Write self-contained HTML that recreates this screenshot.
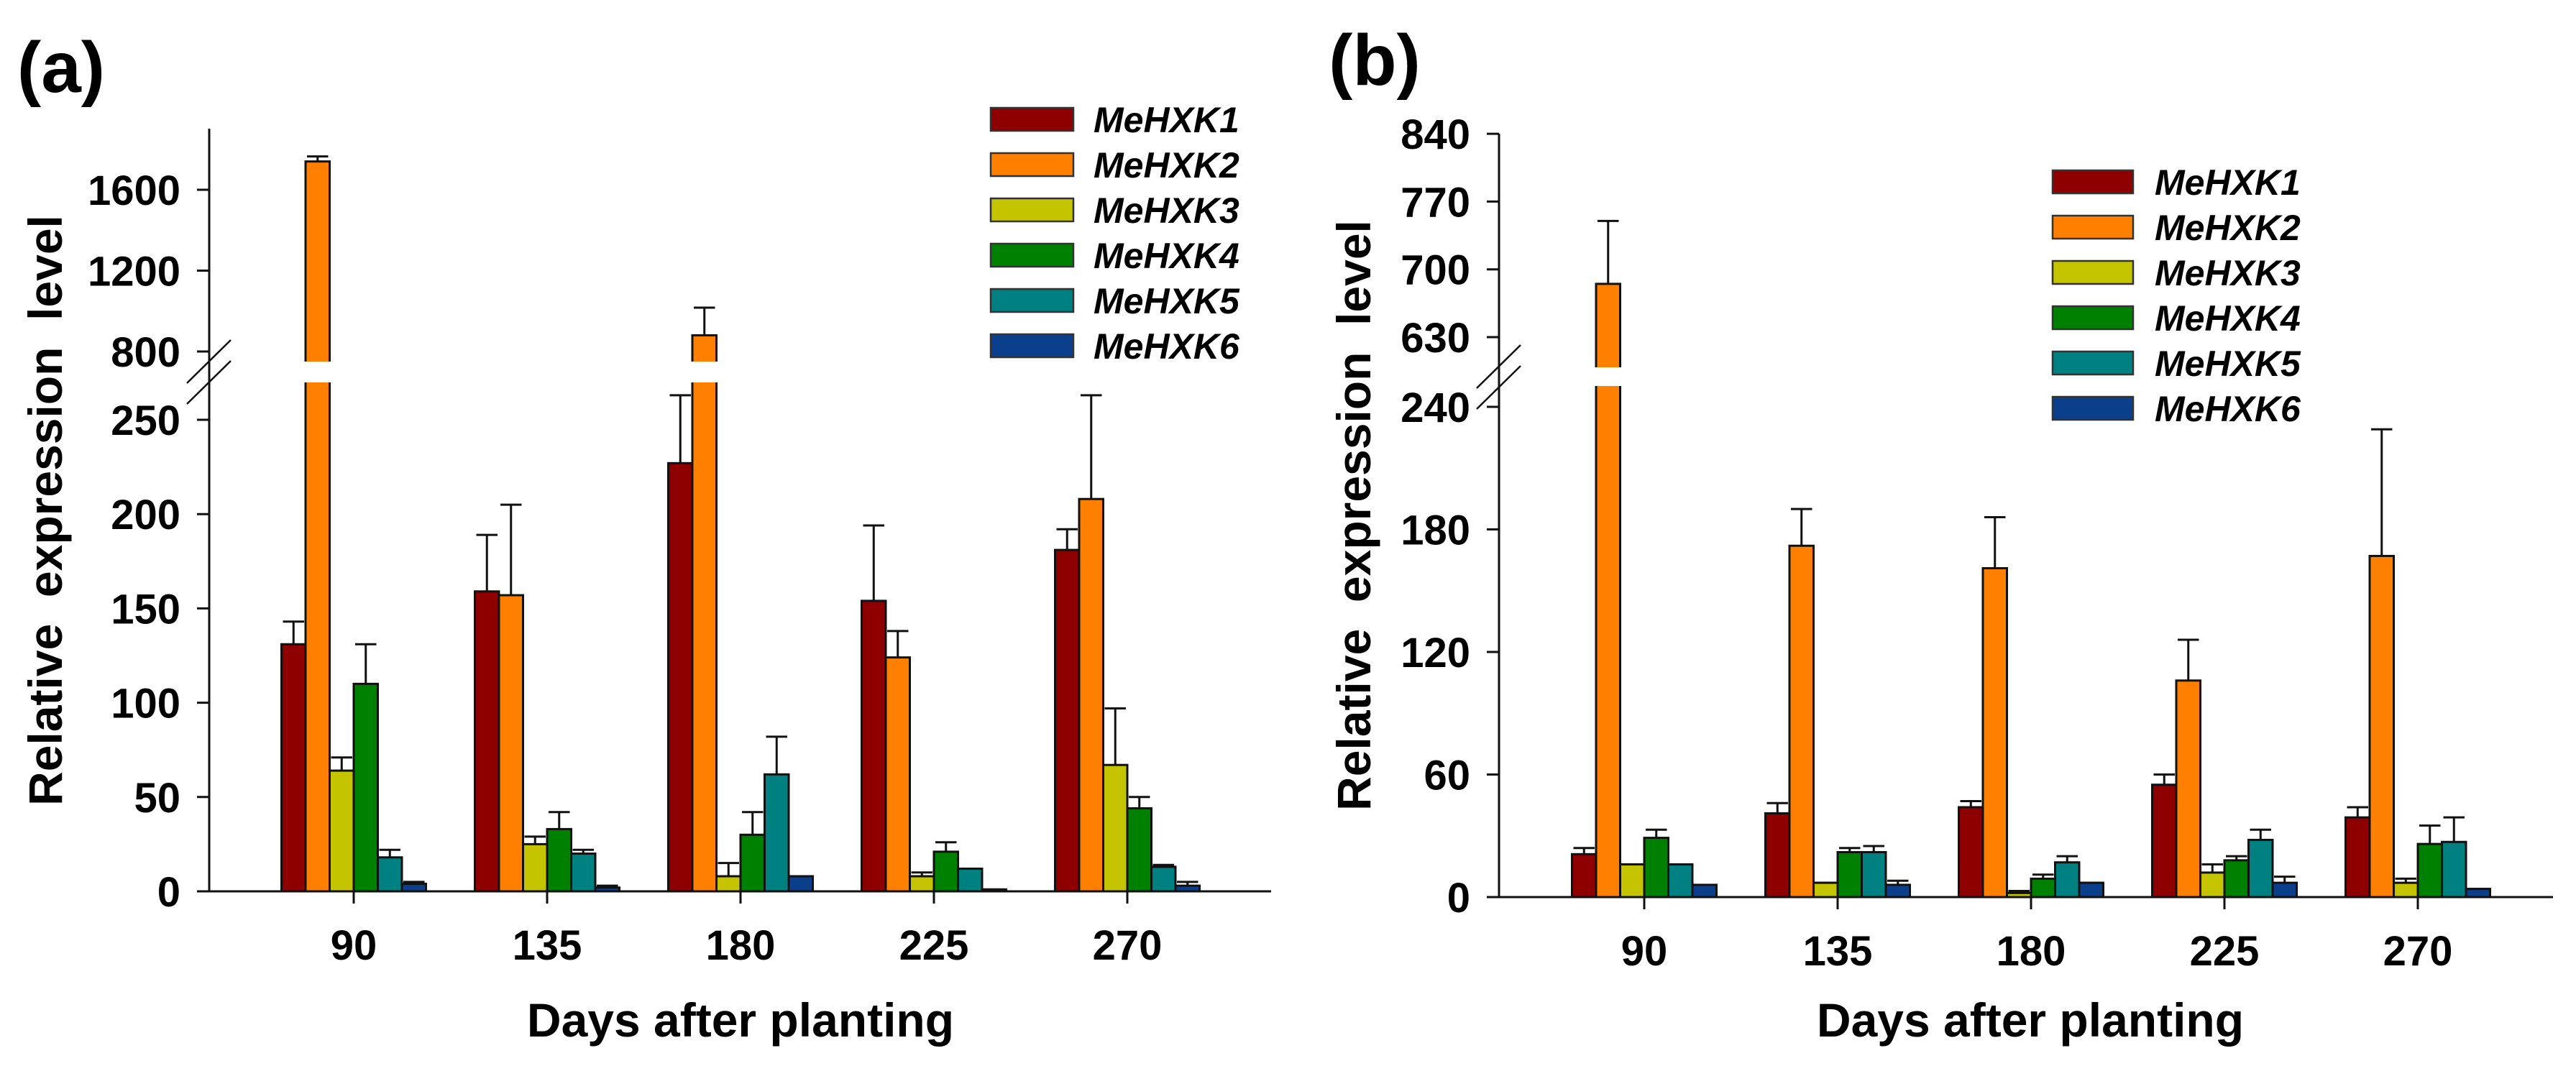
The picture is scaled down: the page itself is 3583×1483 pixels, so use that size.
<!DOCTYPE html>
<html><head><meta charset="utf-8"><style>
html,body{margin:0;padding:0;background:#fff;}
svg{display:block;font-family:"Liberation Sans",Arial,sans-serif;}
</style></head><body>
<svg id="fig" width="3583" height="1483" viewBox="0 0 3583 1483" xmlns="http://www.w3.org/2000/svg">
<rect width="3583" height="1483" fill="#fff"/>
<text x="85" y="128" font-size="100" font-weight="bold" text-anchor="middle">(a)</text>
<text x="1912" y="118" font-size="100" font-weight="bold" text-anchor="middle">(b)</text>
<g id="pa"></g>
<g id="pb"></g>
</svg>
<script>
const categories = ["90","135","180","225","270"];
const genes = ["MeHXK1","MeHXK2","MeHXK3","MeHXK4","MeHXK5","MeHXK6"];
const colors = ["#8E0000","#FF8000","#C4C400","#008000","#008080","#0B3F8C"];
// Panel a values [gene][category]
const aMean1 = [131,159,227,154,181];
const aMean2 = [1740,157,880,124,208];
const aMean3 = [64,25,8,8,67];
const aMean4 = [110,33,30,21,44];
const aMean5 = [18,20,62,12,13];
const aMean6 = [4,2,8,1,3];
const aErr1 = [143,189,263,194,192];
const aErr2 = [1765,205,1017,138,263];
const aErr3 = [71,29,15,10,97];
const aErr4 = [131,42,42,26,50];
const aErr5 = [22,22,82,12,14];
const aErr6 = [5,3,8,1,5];
// Panel b values
const bMean1 = [21,41,44,55,39];
const bMean2 = [685,172,161,106,167];
const bMean3 = [16,7,2,12,7];
const bMean4 = [29,22,9,18,26];
const bMean5 = [16,22,17,28,27];
const bMean6 = [6,6,7,7,4];
const bErr1 = [24,46,47,60,44];
const bErr2 = [750,190,186,126,229];
const bErr3 = [16,7,3,16,9];
const bErr4 = [33,24,11,20,35];
const bErr5 = [16,25,20,33,39];
const bErr6 = [6,8,7,10,4];
const aLowTicks = [0,50,100,150,200,250];
const aHighTicks = [800,1200,1600];
const bLowTicks = [0,60,120,180,240];
const bHighTicks = [630,700,770,840];

const NS = "http://www.w3.org/2000/svg";
function mk(parent, tag, attrs){
  const e = document.createElementNS(NS, tag);
  for (const k in attrs) e.setAttribute(k, attrs[k]);
  parent.appendChild(e);
  return e;
}

function drawPanel(g, cfg){
  const means = cfg.means, errs = cfg.errs;
  const yScale = v => v <= cfg.lowMax ? cfg.y0 - v*cfg.lowK : cfg.hiRef - (v-cfg.hiVal)*cfg.hiK;
  const xScale = i => cfg.x0 + i*cfg.dx;
  const w = 33.5;
  for (let c=0;c<categories.length;c++){
    for (let s=0;s<genes.length;s++){
      const v = means[s][c], e = errs[s][c];
      const left = xScale(c) - 3*w + s*w;
      const yt = yScale(v), ye = yScale(e);
      const cx = left + w/2;
      const eb = mk(g,"line",{x1:cx,x2:cx,y1:yt,y2:ye,stroke:"#111","stroke-width":3});
      
      
      const cap = mk(g,"line",{x1:left+2,x2:left+w-2,y1:ye,y2:ye,stroke:"#111","stroke-width":3});
      
      
      const r = mk(g,"rect",{x:left,y:yt,width:w,height:Math.max(cfg.y0-yt,0.5),fill:colors[s],stroke:"#111","stroke-width":3});
      
      
      if (v > cfg.lowMax){
        const gp = mk(g,"rect",{x:left-4,y:cfg.gapTop,width:w+8,height:cfg.gapBot-cfg.gapTop,fill:"#fff"});
        
        
      }
    }
  }
  const ya = mk(g,"line",{x1:cfg.ax,x2:cfg.ax,y1:cfg.axTop,y2:cfg.y0+1,stroke:"#111","stroke-width":3});
  
  
  const xa = mk(g,"line",{x1:cfg.xaStart,x2:cfg.xaEnd,y1:cfg.y0,y2:cfg.y0,stroke:"#111","stroke-width":3});
  
  
  const ticks = cfg.lowTicks.concat(cfg.highTicks);
  for (const t of ticks){
    const y = yScale(t);
    const tl = mk(g,"line",{x1:cfg.ax-17,x2:cfg.ax,y1:y,y2:y,stroke:"#111","stroke-width":3});
    
    
    const tx = mk(g,"text",{x:cfg.ax-40,y:y+21,"font-size":58,"font-weight":"bold","text-anchor":"end"});
    tx.textContent = t;
    
    
  }
  for (const off of [0,29]){
    const sl = mk(g,"line",{x1:cfg.ax-31,y1:cfg.slashY+off+30,x2:cfg.ax+30,y2:cfg.slashY+off-30,stroke:"#111","stroke-width":2.5});
    
    
  }
  for (let c=0;c<categories.length;c++){
    const x = xScale(c);
    const tk = mk(g,"line",{x1:x,x2:x,y1:cfg.y0,y2:cfg.y0+17,stroke:"#111","stroke-width":3});
    
    
    const tx = mk(g,"text",{x:x,y:cfg.y0+95,"font-size":58,"font-weight":"bold","text-anchor":"middle"});
    tx.textContent = categories[c];
    
    
  }
  const xt = mk(g,"text",{x:cfg.xTitleX,y:1442,"font-size":66,"font-weight":"bold","text-anchor":"middle"});
  xt.textContent = "Days after planting";
  
  
  const yt = mk(g,"text",{x:0,y:0,"font-size":66,"font-weight":"bold","text-anchor":"middle",transform:`translate(${cfg.yTitleX},${cfg.yTitleY}) rotate(-90)`});
  yt.textContent = "Relative\u00a0 expression\u00a0 level";
  
  
  for (let s=0;s<genes.length;s++){
    const y = cfg.legY + s*cfg.legDy;
    const sw = mk(g,"rect",{x:cfg.legX,y:y-16,width:cfg.legW,height:32,fill:colors[s],stroke:"#333","stroke-width":2.5});
    
    
    const lt = mk(g,"text",{x:cfg.legTx,y:y+18,"font-size":50,"font-weight":"bold","font-style":"italic"});
    lt.textContent = genes[s];
    
    
  }
}

drawPanel(document.getElementById('pa'), {
  means:[aMean1,aMean2,aMean3,aMean4,aMean5,aMean6],
  errs:[aErr1,aErr2,aErr3,aErr4,aErr5,aErr6],
  lowTicks:aLowTicks, highTicks:aHighTicks,
  y0:1240, lowK:656/250, lowMax:300, hiRef:489, hiVal:800, hiK:112.5/400,
  gapTop:503, gapBot:532, x0:492, dx:269, ax:291, axTop:179, xaStart:274, xaEnd:1768,
  slashY:503, xTitleX:1030, yTitleX:86, yTitleY:710,
  legX:1378, legW:115, legTx:1521, legY:166, legDy:63
});
drawPanel(document.getElementById('pb'), {
  means:[bMean1,bMean2,bMean3,bMean4,bMean5,bMean6],
  errs:[bErr1,bErr2,bErr3,bErr4,bErr5,bErr6],
  lowTicks:bLowTicks, highTicks:bHighTicks,
  y0:1248, lowK:170.5/60, lowMax:300, hiRef:469, hiVal:630, hiK:94.3/70,
  gapTop:511, gapBot:537, x0:2287, dx:269, ax:2085, axTop:186, xaStart:2070, xaEnd:3551,
  slashY:510, xTitleX:2824, yTitleX:1906, yTitleY:717,
  legX:2855, legW:112, legTx:2997, legY:253, legDy:63
});
</script>
</body></html>
